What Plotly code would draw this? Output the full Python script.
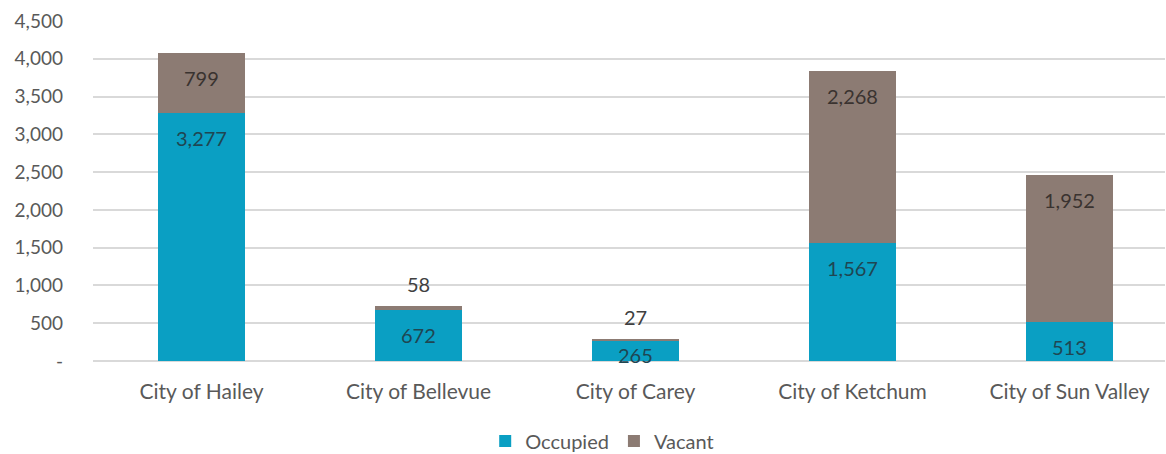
import plotly.graph_objects as go

cities = ["City of Hailey", "City of Bellevue", "City of Carey", "City of Ketchum", "City of Sun Valley"]
occupied = [3277, 672, 265, 1567, 513]
vacant = [799, 58, 27, 2268, 1952]
y_ticks = [0, 500, 1000, 1500, 2000, 2500, 3000, 3500, 4000, 4500]
y_tick_labels = ["-", "500", "1,000", "1,500", "2,000", "2,500", "3,000", "3,500", "4,000", "4,500"]

TEAL = "#0A9FC3"
TAUPE = "#8C7B73"
FONT = "Lato"

fig = go.Figure()
fig.add_trace(go.Bar(name="Occupied", x=cities, y=occupied, marker_color=TEAL,
                     marker_line_width=0, hoverinfo="skip"))
fig.add_trace(go.Bar(name="Vacant", x=cities, y=vacant, marker_color=TAUPE,
                     marker_line_width=0, hoverinfo="skip"))

# value labels: occupied just below its top, vacant below its top
# (or above the bar when the segment is too thin)
for c, o, v in zip(cities, occupied, vacant):
    fig.add_annotation(x=c, y=o, text=f"{o:,}", showarrow=False, yshift=-25 if o > 300 else -14,
                       font=dict(family=FONT, size=20, color="#1F4652"))
    thin = v < 300
    fig.add_annotation(x=c, y=o + v, text=f"{v:,}", showarrow=False,
                       yshift=22 if thin else -25,
                       font=dict(family=FONT, size=20, color="#404040" if thin else "#3A3330"))

fig.update_layout(
    barmode="stack",
    bargap=0.6,
    width=1166, height=454,
    margin=dict(l=93, r=1, t=21, b=93, autoexpand=False),
    paper_bgcolor="white", plot_bgcolor="white",
    font=dict(family=FONT, size=18, color="#595959"),
    showlegend=True,
    legend=dict(orientation="h", traceorder="normal", x=0.475, xanchor="center",
                y=-0.235, yanchor="middle",
                font=dict(family=FONT, size=20, color="#595959"),
                itemwidth=30, tracegroupgap=0),
    xaxis=dict(range=[-0.5, 4.44], showgrid=False, showline=False, ticks="",
               ticklabelstandoff=16, automargin=False,
               tickfont=dict(family=FONT, size=21, color="#595959")),
    yaxis=dict(range=[0, 4500], tickvals=y_ticks, ticktext=y_tick_labels,
               showgrid=True, gridcolor="#D9D9D9", gridwidth=1.5,
               zeroline=True, zerolinecolor="#D9D9D9", zerolinewidth=1.5,
               showline=False, ticks="", ticklabelstandoff=29, automargin=False,
               tickfont=dict(family=FONT, size=19, color="#595959")),
)

fig.write_html("out.html")
